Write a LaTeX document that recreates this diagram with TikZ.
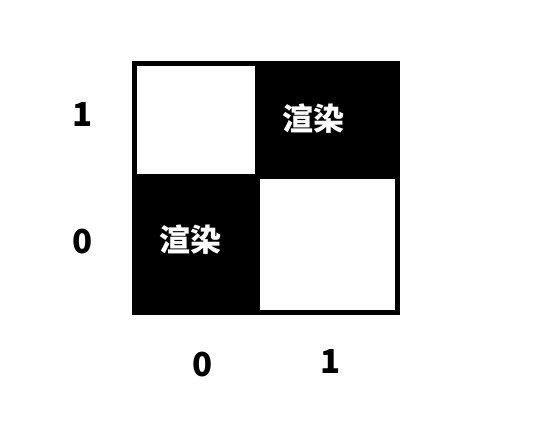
\documentclass[tikz,border=0pt]{standalone}
\usepackage{fontspec}
\newfontfamily\cjk{Noto Sans CJK SC}
\usetikzlibrary{positioning}
\tikzset{
  blackcell/.style={fill=black, inner sep=0pt},
  whitecell/.style={draw=black, line width=5pt, fill=white, inner sep=0pt},
  tag/.style={font=\cjk\bfseries\fontsize{31}{36}\selectfont, text=white, inner sep=0pt},
  axislabel/.style={font=\cjk\bfseries\fontsize{33}{38}\selectfont, inner sep=0pt}
}
\begin{document}
\begin{tikzpicture}[x=1pt,y=-1pt]
\useasboundingbox (0,0) rectangle (542,435);

\node (c11) [blackcell, minimum width=145pt, minimum height=118pt] at (327.5,120) {};
\node (c00) [blackcell, minimum width=128pt, minimum height=141pt] at (196,244.5) {};
\node (c01) [whitecell, minimum width=123pt, minimum height=113pt] at (196,120) {};
\node (c10) [whitecell, minimum width=140pt, minimum height=136pt] at (327.5,244.5) {};

\node (t11) [tag] at (313,119) {渲染};
\node (t00) [tag] at (190,240) {渲染};

\node (y1) [axislabel] at (83,115) {1};
\node (y0) [axislabel] at (83,242) {0};
\node (x0) [axislabel] at (202.5,365) {0};
\node (x1) [axislabel] at (331,362) {1};

\end{tikzpicture}
\end{document}
